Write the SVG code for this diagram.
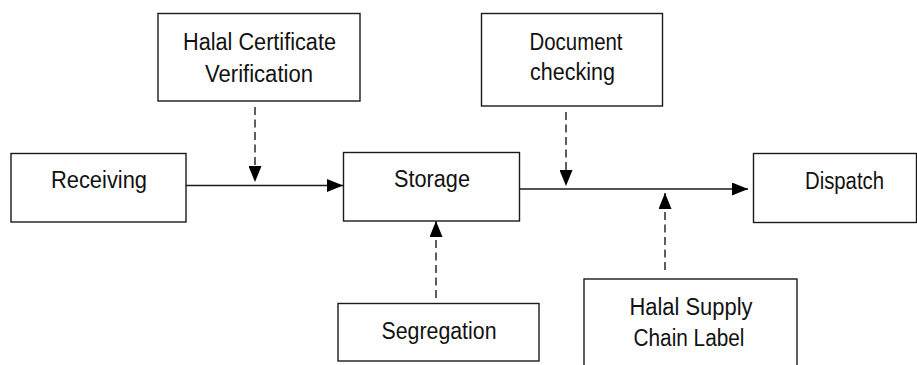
<svg xmlns="http://www.w3.org/2000/svg" width="917" height="365" viewBox="0 0 917 365">
<style>
.box{fill:#fff;stroke:#1a1a1a;stroke-width:1.4}
.t{font-family:"Liberation Sans",Arial,sans-serif;font-size:23.5px;fill:#111;text-anchor:middle}
.solid{stroke:#1a1a1a;stroke-width:1.4;fill:none}
.dash{stroke:#1a1a1a;stroke-width:1.4;fill:none;stroke-dasharray:8,4.5}
</style>
<defs>
<marker id="ah" viewBox="0 0 16 13" refX="16" refY="6.5" markerWidth="16" markerHeight="13" markerUnits="userSpaceOnUse" orient="auto">
<path d="M0,0 L16,6.5 L0,13 Z" fill="#000"/>
</marker>
</defs>
<rect width="917" height="365" fill="#fff"/>
<g id="connectors">
<line class="solid" x1="186" y1="185.5" x2="343" y2="185.5" marker-end="url(#ah)"/>
<line class="solid" x1="519" y1="189" x2="748" y2="189" marker-end="url(#ah)"/>
<line class="dash" x1="255" y1="107" x2="255" y2="182" marker-end="url(#ah)"/>
<line class="dash" x1="566" y1="112" x2="566" y2="186" marker-end="url(#ah)"/>
<line class="dash" x1="436" y1="298" x2="436" y2="221" marker-end="url(#ah)"/>
<line class="dash" x1="665" y1="270" x2="665" y2="193" marker-end="url(#ah)"/>
</g>
<g id="receiving">
<rect class="box" x="11" y="153.5" width="175" height="68.5"/>
<text class="t" x="99" y="188" textLength="96" lengthAdjust="spacingAndGlyphs">Receiving</text>
</g>
<g id="halal-cert">
<rect class="box" x="158" y="13.5" width="202" height="87.5"/>
<text class="t" x="259.5" y="50" textLength="153" lengthAdjust="spacingAndGlyphs">Halal Certificate</text>
<text class="t" x="259" y="81.5" textLength="108" lengthAdjust="spacingAndGlyphs">Verification</text>
</g>
<g id="storage">
<rect class="box" x="343.5" y="152.5" width="176" height="68.5"/>
<text class="t" x="432" y="187" textLength="76" lengthAdjust="spacingAndGlyphs">Storage</text>
</g>
<g id="document">
<rect class="box" x="481.5" y="13.5" width="181" height="92.5"/>
<text class="t" x="576" y="49.5" textLength="93" lengthAdjust="spacingAndGlyphs">Document</text>
<text class="t" x="572.5" y="80" textLength="85" lengthAdjust="spacingAndGlyphs">checking</text>
</g>
<g id="dispatch">
<rect class="box" x="753.5" y="153.5" width="163" height="69"/>
<text class="t" x="844.5" y="189" textLength="79" lengthAdjust="spacingAndGlyphs">Dispatch</text>
</g>
<g id="segregation">
<rect class="box" x="338" y="303.5" width="201" height="57.5"/>
<text class="t" x="439" y="339" textLength="115" lengthAdjust="spacingAndGlyphs">Segregation</text>
</g>
<g id="halal-label">
<rect class="box" x="584" y="279" width="213" height="100"/>
<text class="t" x="691" y="314.5" textLength="123" lengthAdjust="spacingAndGlyphs">Halal Supply</text>
<text class="t" x="689" y="346" textLength="111" lengthAdjust="spacingAndGlyphs">Chain Label</text>
</g>
</svg>
